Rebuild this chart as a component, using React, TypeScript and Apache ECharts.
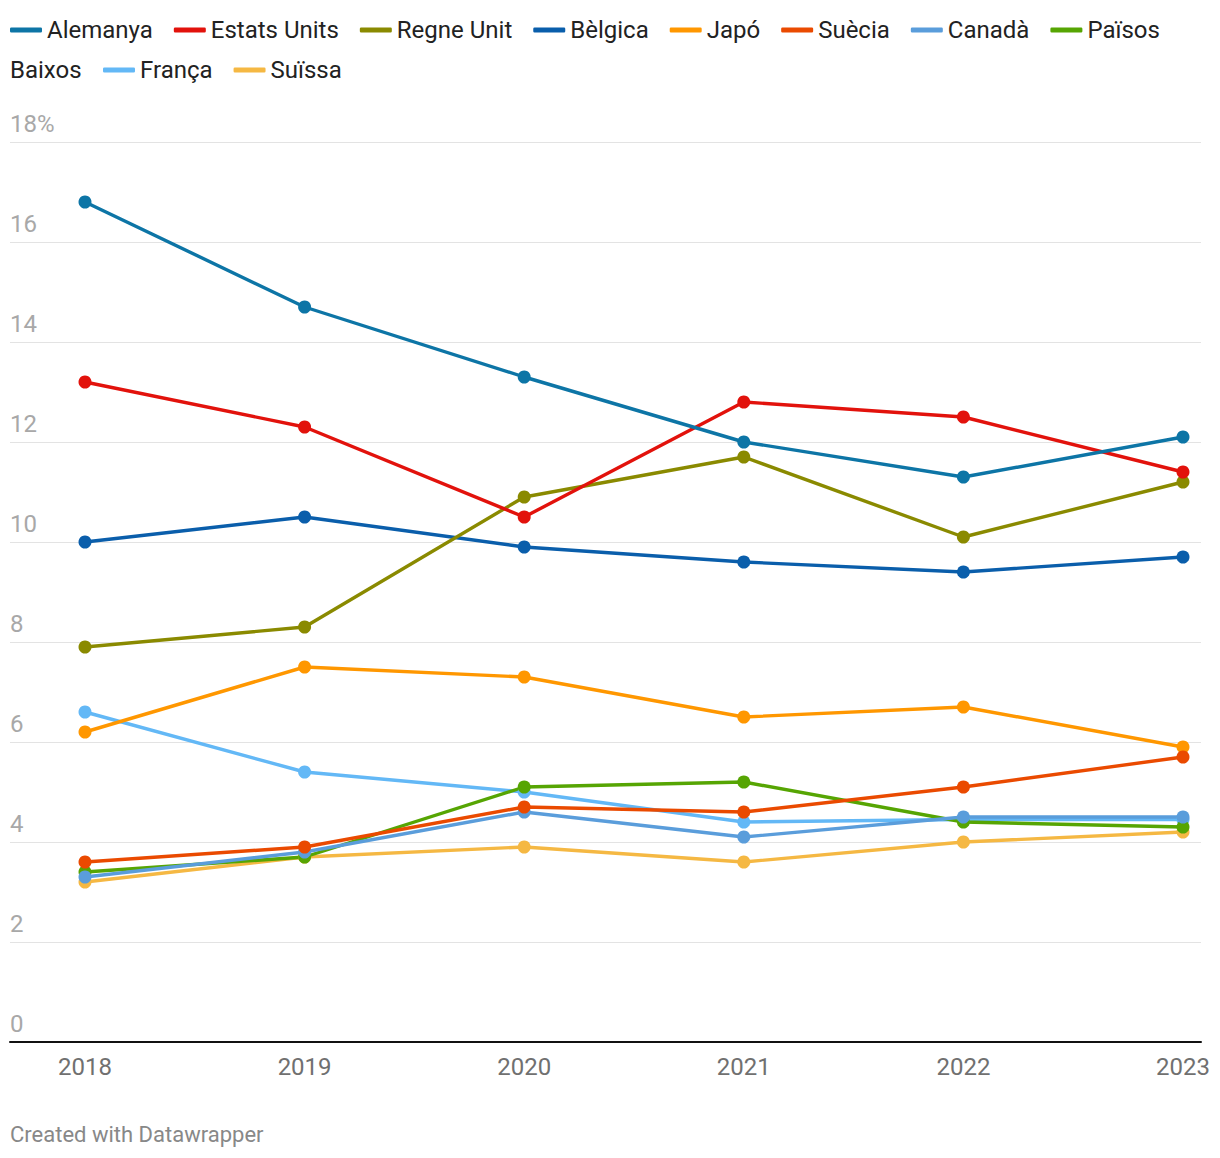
import React, { useEffect, useRef } from "react";
import * as echarts from "echarts";

const years = [2018, 2019, 2020, 2021, 2022, 2023];
const yTicks = [0, 2, 4, 6, 8, 10, 12, 14, 16, 18];

const alemanya = [16.8, 14.7, 13.3, 12.0, 11.3, 12.1];
const estatsUnits = [13.2, 12.3, 10.5, 12.8, 12.5, 11.4];
const regneUnit = [7.9, 8.3, 10.9, 11.7, 10.1, 11.2];
const belgica = [10.0, 10.5, 9.9, 9.6, 9.4, 9.7];
const japo = [6.2, 7.5, 7.3, 6.5, 6.7, 5.9];
const suecia = [3.6, 3.9, 4.7, 4.6, 5.1, 5.7];
const canada = [3.3, 3.8, 4.6, 4.1, 4.5, 4.5];
const paisosBaixos = [3.4, 3.7, 5.1, 5.2, 4.4, 4.3];
const franca = [6.6, 5.4, 5.0, 4.4, 4.45, 4.45];
const suissa = [3.2, 3.7, 3.9, 3.6, 4.0, 4.2];

const legendRow1 = [
  "Alemanya",
  "Estats Units",
  "Regne Unit",
  "Bèlgica",
  "Japó",
  "Suècia",
  "Canadà",
  "Països Baixos",
];
const legendRow2 = ["França", "Suïssa"];

// drawing order (bottom to top)
const seriesDefs: { name: string; values: number[]; color: string }[] = [
  { name: "Suïssa", values: suissa, color: "#f5b843" },
  { name: "França", values: franca, color: "#63b8f6" },
  { name: "Països Baixos", values: paisosBaixos, color: "#56a503" },
  { name: "Canadà", values: canada, color: "#5a9ddb" },
  { name: "Japó", values: japo, color: "#ff9700" },
  { name: "Suècia", values: suecia, color: "#ea4a00" },
  { name: "Bèlgica", values: belgica, color: "#0a5eab" },
  { name: "Regne Unit", values: regneUnit, color: "#8a8a00" },
  { name: "Estats Units", values: estatsUnits, color: "#e2120c" },
  { name: "Alemanya", values: alemanya, color: "#0d75a6" },
];

const FONT = "Roboto, 'Noto Sans', sans-serif";

export default function App() {
  const ref = useRef<HTMLDivElement>(null);

  useEffect(() => {
    document.body.style.margin = "0";
    if (!ref.current) return;
    const chart = echarts.init(ref.current, undefined, { renderer: "svg" });

    const series = seriesDefs.map((s) => ({
      name: s.name,
      type: "line",
      data: s.values.map((v, i) => [years[i], v]),
      color: s.color,
      lineStyle: { width: 3.4, color: s.color },
      itemStyle: { color: s.color },
      symbol: "circle",
      symbolSize: 13,
      showSymbol: true,
      emphasis: { disabled: true },
    }));

    const legendCommon = {
      orient: "horizontal",
      icon: "roundRect",
      itemWidth: 32,
      itemHeight: 5,
      itemGap: 21,
      textStyle: {
        fontFamily: FONT,
        fontSize: 24,
        color: "#222",
        lineHeight: 24,
      },
      padding: 0,
    };

    chart.setOption({
      animation: false,
      backgroundColor: "#fff",
      textStyle: { fontFamily: FONT },
      legend: [
        {
          ...legendCommon,
          left: 10,
          top: 18,
          data: legendRow1,
          formatter: (n: string) => (n === "Països Baixos" ? "Països" : n),
        },
        {
          ...legendCommon,
          left: 103,
          top: 58,
          data: legendRow2,
        },
      ],
      graphic: [
        {
          type: "text",
          left: 10,
          top: 58,
          style: {
            text: "Baixos",
            font: `24px ${FONT}`,
            fill: "#222",
          },
        },
        {
          type: "text",
          left: 10,
          top: 1123,
          style: {
            text: "Created with Datawrapper",
            font: `22px ${FONT}`,
            fill: "#888",
          },
        },
      ],
      grid: {
        left: 10,
        right: 19,
        top: 142,
        bottom: 116,
        containLabel: false,
      },
      xAxis: {
        type: "value",
        min: 2018 - 75 / 219.6,
        max: 2023 + 18 / 219.6,
        splitLine: { show: false },
        axisLine: { show: true, onZero: false, lineStyle: { color: "#111", width: 2 } },
        axisTick: { show: false },
        axisLabel: {
          customValues: years,
          formatter: (v: number) => String(Math.round(v)),
          fontFamily: FONT,
          fontSize: 24,
          color: "#707070",
          margin: 13,
        },
      },
      yAxis: {
        type: "value",
        min: 0,
        max: 18,
        interval: 2,
        axisLine: { show: false },
        axisTick: { show: false },
        splitLine: { lineStyle: { color: "#e3e3e3", width: 1 } },
        axisLabel: {
          inside: true,
          margin: 0,
          verticalAlign: "bottom",
          padding: [0, 0, 6, 0],
          fontFamily: FONT,
          fontSize: 24,
          color: "#a8a8a8",
          formatter: (v: number) =>
            yTicks.includes(v) ? (v === 18 ? "18%" : String(v)) : "",
        },
      },
      series,
    });

    return () => chart.dispose();
  }, []);

  return <div ref={ref} style={{ width: 1220, height: 1158 }} />;
}
